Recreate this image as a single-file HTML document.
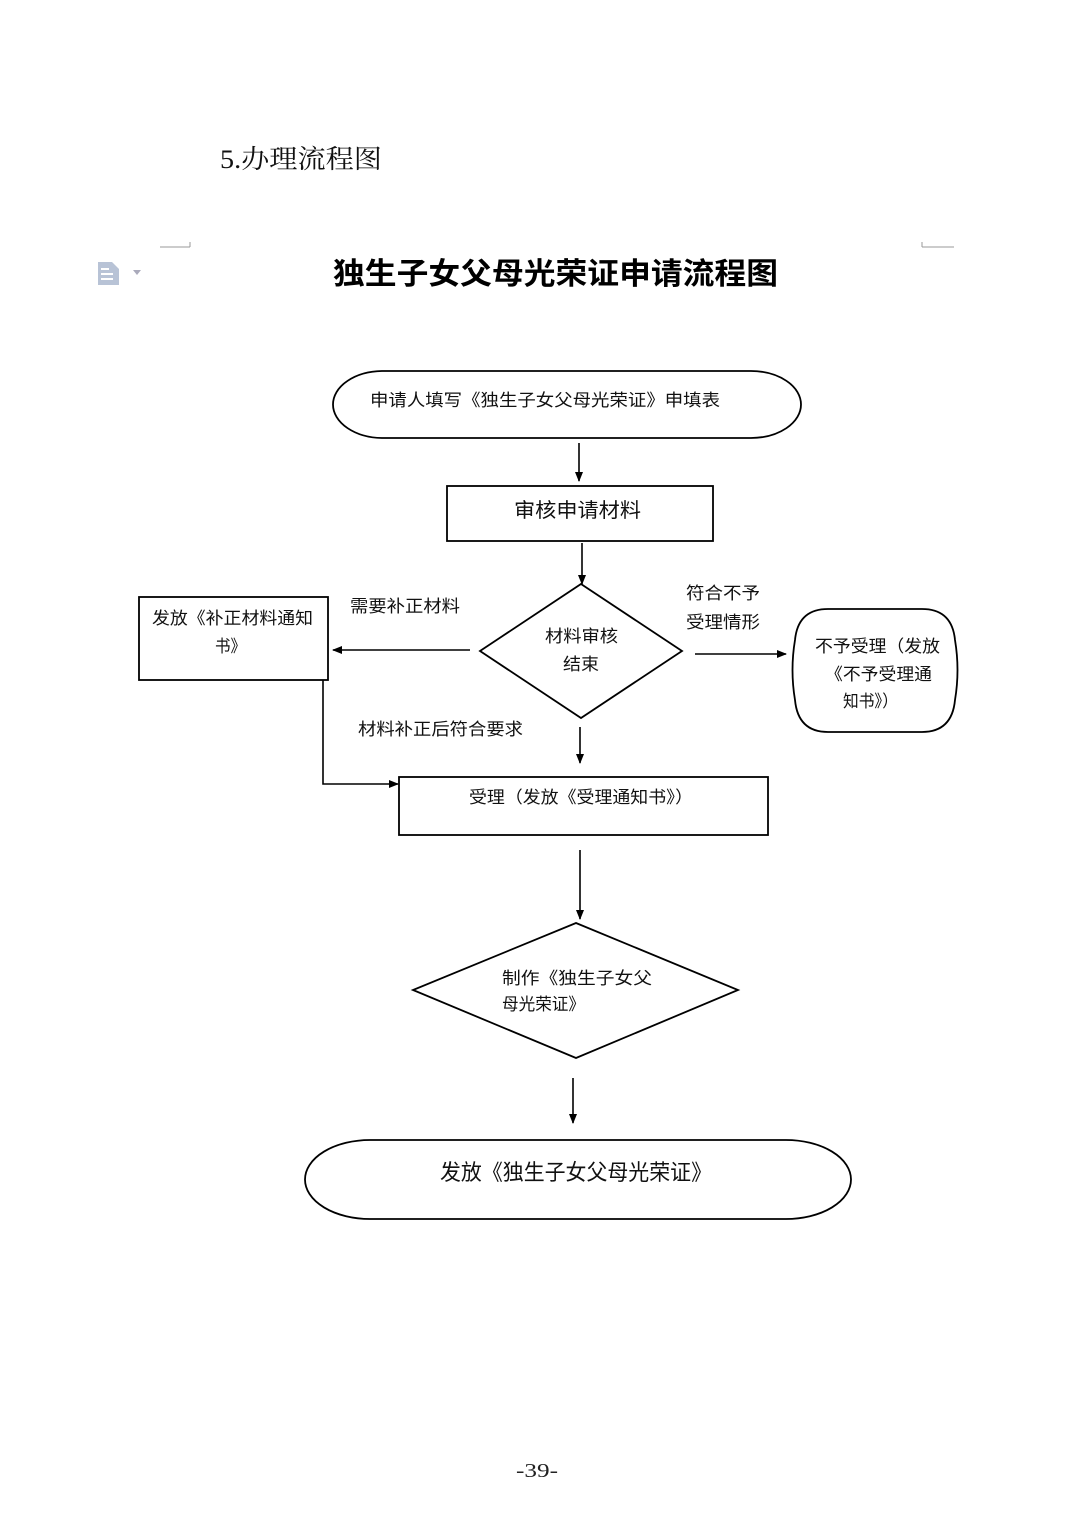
<!DOCTYPE html>
<html>
<head>
<meta charset="utf-8">
<style>
html,body{margin:0;padding:0;background:#fff;}
svg{display:block;}
.t{font-family:"Liberation Sans","Noto Sans CJK SC",sans-serif;fill:#111;}
</style>
</head>
<body>
<svg width="1074" height="1520" viewBox="0 0 1074 1520" xmlns="http://www.w3.org/2000/svg">
<defs>
<marker id="ah" markerWidth="10" markerHeight="11" refX="9" refY="5.5" orient="auto" markerUnits="userSpaceOnUse">
<path d="M0,1.5 L10,5.5 L0,9.5 Z" fill="#000"/>
</marker>
</defs>
<rect width="1074" height="1520" fill="#fff"/>

<!-- header -->
<text x="220" y="168" font-family="'Liberation Serif','Noto Serif CJK SC',serif" font-size="26" fill="#111" textLength="162" lengthAdjust="spacingAndGlyphs">5.办理流程图</text>

<!-- corner marks -->
<path d="M160,247 H190 M190,242 V247" stroke="#999" stroke-width="1" fill="none"/>
<path d="M922,247 H954 M922,242 V247" stroke="#999" stroke-width="1" fill="none"/>

<!-- doc icon -->
<g fill="#b8c3d6">
<path d="M98,262 H112 L119,269 V285 H98 Z"/>
</g>
<g fill="#fff">
<rect x="101" y="268" width="8" height="2"/>
<rect x="101" y="273" width="12" height="2"/>
<rect x="101" y="278" width="12" height="2"/>
</g>
<path d="M133,270 L141,270 L137,275 Z" fill="#aab"/>

<!-- title -->
<text class="t" x="333" y="284" font-size="30" font-weight="bold" textLength="445" lengthAdjust="spacingAndGlyphs" style="fill:#000">独生子女父母光荣证申请流程图</text>

<g stroke="#000" stroke-width="1.8" fill="none">
<!-- start ellipse -->
<path d="M383,371 H751 A50,33.5 0 0 1 751,438 H383 A50,33.5 0 0 1 383,371 Z" />
<rect x="447" y="486" width="266" height="55"/>
<!-- diamond 1 -->
<path d="M581,584 L682,651 L581,718 L480,651 Z"/>
<!-- left box -->
<rect x="139" y="597" width="189" height="83"/>
<!-- right rounded -->
<path d="M828,609 H922 Q952,609 955,640 Q960,670 955,700 Q952,732 922,732 H828 Q798,732 795,700 Q790,670 795,640 Q798,609 828,609 Z"/>
<!-- accept box -->
<rect x="399" y="777" width="369" height="58"/>
<!-- diamond 2 -->
<path d="M576,923 L738,990 L576,1058 L413,990 Z"/>
<!-- end ellipse -->
<path d="M370,1140 H786 A65,39.5 0 0 1 786,1219 H370 A65,39.5 0 0 1 370,1140 Z"/>
</g>

<!-- arrows -->
<g stroke="#000" stroke-width="1.6" fill="none" marker-end="url(#ah)">
<line x1="579" y1="443" x2="579" y2="481"/>
<line x1="582" y1="543" x2="582" y2="584"/>
<line x1="470" y1="650" x2="333" y2="650"/>
<line x1="695" y1="654" x2="786" y2="654"/>
<line x1="580" y1="727" x2="580" y2="763"/>
<polyline points="323,680 323,784 398,784"/>
<line x1="580" y1="850" x2="580" y2="919"/>
<line x1="573" y1="1078" x2="573" y2="1123"/>
</g>

<!-- node texts -->
<text class="t" x="370" y="406" font-size="17" textLength="350" lengthAdjust="spacingAndGlyphs">申请人填写《独生子女父母光荣证》申填表</text>
<text class="t" x="514" y="517" font-size="20" textLength="127" lengthAdjust="spacingAndGlyphs">审核申请材料</text>
<text class="t" x="545" y="642" font-size="17" textLength="73" lengthAdjust="spacingAndGlyphs">材料审核</text>
<text class="t" x="563" y="670" font-size="17" textLength="36" lengthAdjust="spacingAndGlyphs">结束</text>
<text class="t" x="350" y="612" font-size="17" textLength="110" lengthAdjust="spacingAndGlyphs">需要补正材料</text>
<text class="t" x="152" y="624" font-size="17" textLength="161" lengthAdjust="spacingAndGlyphs">发放《补正材料通知</text>
<text class="t" x="215" y="652" font-size="17" textLength="31" lengthAdjust="spacingAndGlyphs">书》</text>
<text class="t" x="686" y="599" font-size="17" textLength="74" lengthAdjust="spacingAndGlyphs">符合不予</text>
<text class="t" x="686" y="628" font-size="17" textLength="74" lengthAdjust="spacingAndGlyphs">受理情形</text>
<text class="t" x="815" y="652" font-size="17" textLength="125" lengthAdjust="spacingAndGlyphs">不予受理（发放</text>
<text class="t" x="825" y="680" font-size="17" textLength="107" lengthAdjust="spacingAndGlyphs">《不予受理通</text>
<text class="t" x="843" y="707" font-size="17" textLength="55" lengthAdjust="spacingAndGlyphs">知书》）</text>
<text class="t" x="358" y="735" font-size="17" textLength="165" lengthAdjust="spacingAndGlyphs">材料补正后符合要求</text>
<text class="t" x="469" y="803" font-size="17" textLength="224" lengthAdjust="spacingAndGlyphs">受理（发放《受理通知书》）</text>
<text class="t" x="502" y="984" font-size="17" textLength="150" lengthAdjust="spacingAndGlyphs">制作《独生子女父</text>
<text class="t" x="502" y="1010" font-size="17" textLength="83" lengthAdjust="spacingAndGlyphs">母光荣证》</text>
<text class="t" x="440" y="1180" font-size="22" textLength="272" lengthAdjust="spacingAndGlyphs">发放《独生子女父母光荣证》</text>

<!-- page number -->
<text x="516" y="1477" font-family="'Liberation Serif',serif" font-size="20" fill="#222" textLength="42" lengthAdjust="spacingAndGlyphs">-39-</text>
</svg>
</body>
</html>
